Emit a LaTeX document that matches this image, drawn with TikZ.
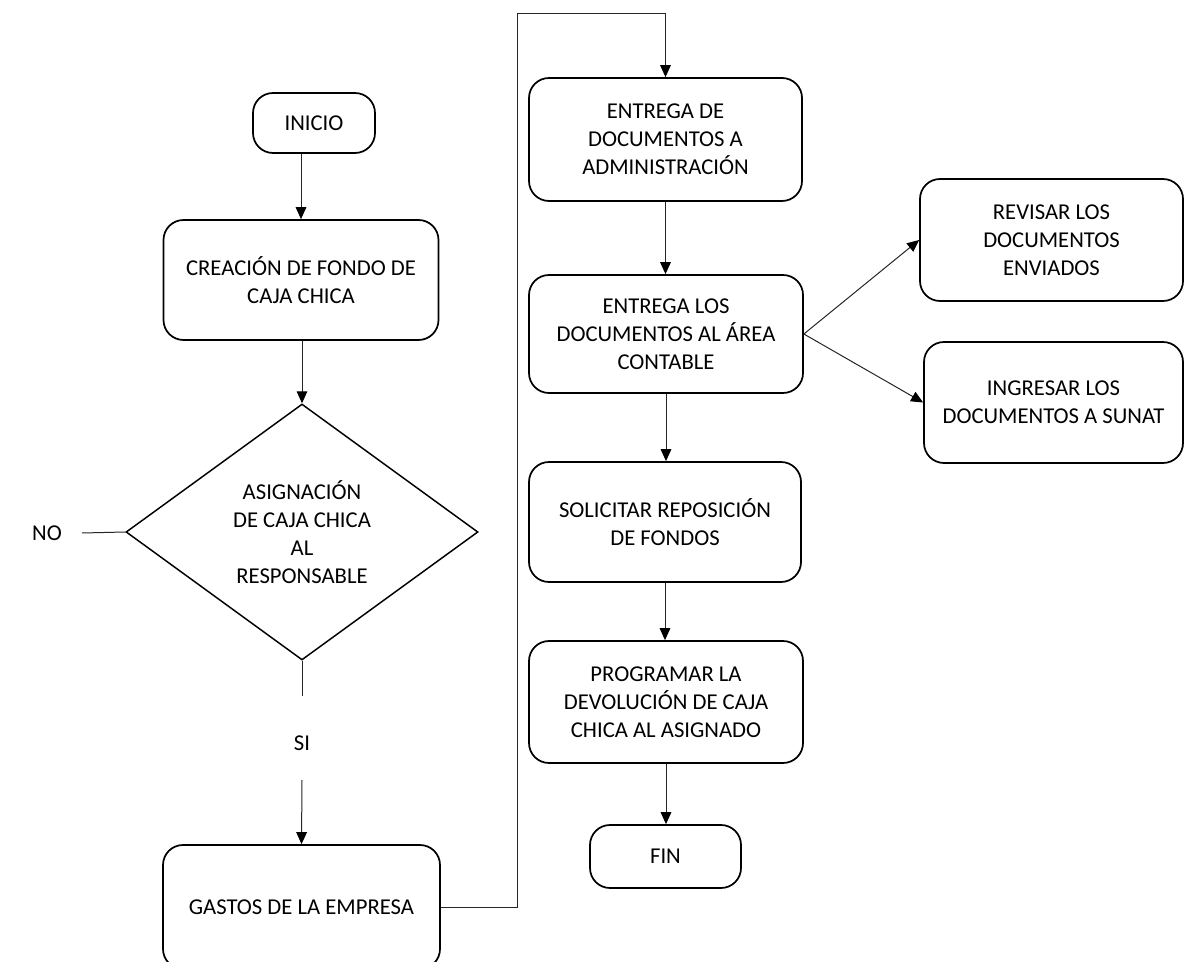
\documentclass[tikz,border=0pt]{standalone}
\usepackage{fontspec}
\setmainfont{Carlito}
\usetikzlibrary{shapes.geometric,arrows.meta}
\begin{document}
\begin{tikzpicture}[x=0.75pt,y=-0.75pt,
  box/.style={draw=black,line width=1.3pt,rounded corners=15pt,align=center,inner sep=0pt,
    font=\fontsize{17}{21}\selectfont},
  dec/.style={draw=black,line width=1.1pt,diamond,align=center,inner sep=0pt,
    font=\fontsize{17}{21}\selectfont},
  lbl/.style={font=\fontsize{17}{21}\selectfont,inner sep=0pt},
  conn/.style={draw=black!85,line width=0.75pt},
  arr/.style={conn,-{Triangle[length=9pt,width=8pt,color=black]}}]
\useasboundingbox (0,0) rectangle (1186,962);
\node[box,minimum width={122*0.75pt},minimum height={60*0.75pt}] (inicio) at (314,123) {INICIO};
\node[box,minimum width={275*0.75pt},minimum height={120*0.75pt}] (creacion) at (301,280) {CREACIÓN DE FONDO DE\\CAJA CHICA};
\node[dec,minimum width={352*0.75pt},minimum height={256*0.75pt}] (asig) at (302,532) {ASIGNACIÓN\\DE CAJA CHICA\\AL\\RESPONSABLE};
\node[box,minimum width={277*0.75pt},minimum height={124*0.75pt}] (gastos) at (301.5,907) {GASTOS DE LA EMPRESA};
\node[box,minimum width={273*0.75pt},minimum height={123*0.75pt}] (entrega1) at (665.5,139.5) {ENTREGA DE\\DOCUMENTOS A\\ADMINISTRACIÓN};
\node[box,minimum width={274*0.75pt},minimum height={118*0.75pt}] (entrega2) at (666,334) {ENTREGA LOS\\DOCUMENTOS AL ÁREA\\CONTABLE};
\node[box,minimum width={272*0.75pt},minimum height={120*0.75pt}] (solicitar) at (665,522) {SOLICITAR REPOSICIÓN\\DE FONDOS};
\node[box,minimum width={274*0.75pt},minimum height={122*0.75pt}] (programar) at (666,702) {PROGRAMAR LA\\DEVOLUCIÓN DE CAJA\\CHICA AL ASIGNADO};
\node[box,minimum width={151*0.75pt},minimum height={63*0.75pt}] (fin) at (665.5,856.5) {FIN};
\node[box,minimum width={263*0.75pt},minimum height={122*0.75pt}] (revisar) at (1051.5,240) {REVISAR LOS\\DOCUMENTOS\\ENVIADOS};
\node[box,minimum width={259*0.75pt},minimum height={121*0.75pt}] (ingresar) at (1053.5,402.5) {INGRESAR LOS\\DOCUMENTOS A SUNAT};
\node[lbl] (no) at (47,533) {NO};
\node[lbl] (si) at (302,743) {SI};
\coordinate (noend) at (82,533);
\coordinate (siend) at (302,696);
\coordinate (sistart) at (302,780);
\coordinate (up1) at (517,907);
\coordinate (up2) at (517,14);
\coordinate (up3) at (665.5,14);
\draw[arr] (creacion.north |- inicio.south) -- (creacion.north);
\draw[arr] (creacion.south -| asig.north) -- (asig.north);
\draw[conn] (asig.south) -- (siend);
\draw[arr] (sistart) -- (gastos.north);
\draw[conn] (asig.west) -- (noend);
\draw[arr] (gastos.east) -- (up1) -- (up2) -- (up3) -- (entrega1.north);
\draw[arr] (entrega1.south) -- (entrega1.south |- entrega2.north);
\draw[arr] (entrega2.south) -- (entrega2.south |- solicitar.north);
\draw[arr] (solicitar.south) -- (solicitar.south |- programar.north);
\draw[arr] (programar.south) -- (programar.south |- fin.north);
\draw[arr] (entrega2.east) -- (revisar.west);
\draw[arr] (entrega2.east) -- (ingresar.west);
\end{tikzpicture}
\end{document}
